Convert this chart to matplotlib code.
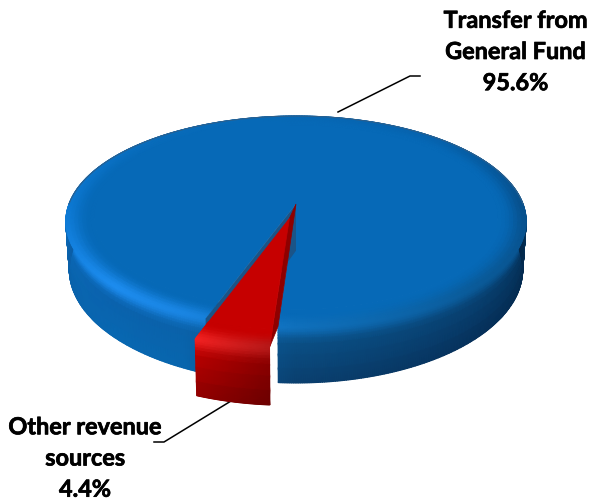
#!/usr/bin/python3
"""
plot.py

3-d look revenue pie, drawn by projecting the pie disc with a perspective
"""

import numpy as np
import matplotlib
matplotlib.use("Agg")
import matplotlib.pyplot as plt
import matplotlib.patheffects as pe
from matplotlib.colors import to_rgb


labels = ["Transfer from\nGeneral Fund\n95.6%", "Other revenue\nsources\n4.4%"]
shares = [95.6, 4.4]


# canvas, pixels
WIDTH = 591
HEIGHT = 502

# projection of the pie disc
CX, CY = 296.0, 205.0
G, F, K = 227.0, 102.6, 0.166
DEPTH = 46.7

# angle of the first edge of the red slice, degrees from the front
START = 3.8
EXPLODE = 0.14
BEVEL_R = 0.88

# shading tables, by angle from the front (positive is to the left)
ANGLES = [-180, -135, -90, -45, 0, 25, 45, 90, 135, 180]
BLUE_RIM = ["#0668b5", "#0662ad", "#07508c", "#0a5a98", "#0f70bc", "#1a86e4",
            "#1d8df0", "#0c78d2", "#086cbb", "#0668b5"]
BLUE_MID = ["#0668b5", "#044a80", "#032c50", "#084070", "#0a4f85", "#0a62aa",
            "#0a62ad", "#0a6ab8", "#0c78d2", "#0668b5"]
BLUE_LOW = ["#0668b5", "#06305a", "#03284a", "#06305a", "#0a3f6e", "#0866ae",
            "#0868b2", "#0a5ea6", "#0668b5", "#0668b5"]
BLUE_TOP = "#0669b7"
RED_RIM = ["#e82020"] * 10
RED_MID = ["#b00000"] * 10
RED_LOW = ["#880000"] * 10
RED_TOP = "#c60000"

# sample positions down the wall and across the rim
DROPS = np.array([0, 0.03, 0.06, 0.1, 0.15, 0.2, 0.3, 0.5, 0.75, 1.0])
RADII = np.linspace(BEVEL_R, 1.0, 8)


def project(theta, r, drop=0.0, offset=(0.0, 0.0)):
    """
    Disc point (angle, radius) to canvas pixels, drop 1 is the pie's underside
    """
    px = -r * np.sin(theta) + offset[0]
    py = r * np.cos(theta) + offset[1]
    w = 1 - K * py
    x = CX + G * px / w * (1 - 0.015 * drop)
    y = CY + F * py / w + drop * DEPTH / w
    return x, y


def table_colors(theta, table):
    deg = (np.degrees(theta) + 180) % 360 - 180
    rgb = np.array([to_rgb(c) for c in table])
    return np.stack([np.interp(deg, ANGLES, rgb[:, i]) for i in range(3)], axis=-1)


def smooth(t):
    t = np.clip(t, 0, 1)
    return t * t * (3 - 2 * t)


def draw_slice(ax, th0, th1, top, rim, mid, low, offset=(0.0, 0.0), zorder=2, fade=None):
    """
    Draws side, rounded rim and flat top of one slice
    """
    theta = np.radians(np.linspace(th0, th1, int(abs(th1 - th0) * 2) + 40))
    c_rim = table_colors(theta, rim)
    c_mid = table_colors(theta, mid)
    c_low = table_colors(theta, low)
    if fade is not None:
        scale = np.linspace(fade[0], fade[1], len(theta))[:, None]
        c_rim = np.clip(c_rim * scale, 0, 1)
        c_mid = np.clip(c_mid * scale, 0, 1)
        c_low = np.clip(c_low * scale, 0, 1)
    c_top = np.ones_like(c_rim) * np.array(to_rgb(top))

    # side wall, from the rim down
    x = np.array([project(theta, 1.0, d, offset)[0] for d in DROPS])
    y = np.array([project(theta, 1.0, d, offset)[1] for d in DROPS])
    c = []
    for d in DROPS:
        if d < 0.3:
            u = smooth(d / 0.3)
            c.append((1 - u) * c_rim + u * c_mid)
        else:
            u = (d - 0.3) / 0.7
            c.append((1 - u) * c_mid + u * c_low)
    ax.pcolormesh(x, y, np.stack(c), shading="gouraud", zorder=zorder)

    # rounded rim on the top face
    x = np.array([project(theta, r, 0, offset)[0] for r in RADII])
    y = np.array([project(theta, r, 0, offset)[1] for r in RADII])
    c = []
    for r in RADII:
        u = smooth((r - BEVEL_R) / (1 - BEVEL_R)) ** 1.5
        c.append((1 - u) * c_top + u * c_rim)
    ax.pcolormesh(x, y, np.stack(c), shading="gouraud", zorder=zorder)

    # flat top
    x, y = project(theta, BEVEL_R, 0, offset)
    x0, y0 = project(0.0, 0.0, 0, offset)
    ax.fill(np.r_[x0, x], np.r_[y0, y], color=top, lw=0.5, zorder=zorder)


def draw_pie(ax):
    total = sum(shares)
    red_end = START + shares[1] / total * 360
    blue_end = START + 360
    mid = np.radians((START + red_end) / 2)
    offset = (-np.sin(mid) * EXPLODE, np.cos(mid) * EXPLODE)

    draw_slice(ax, red_end, blue_end, BLUE_TOP, BLUE_RIM, BLUE_MID, BLUE_LOW)

    # back edge of the blue disc
    theta = np.radians(np.linspace(90, 270, 200))
    ax.plot(*project(theta, 1.0), color="#2c5f8c", lw=0.8, zorder=2)

    # cut wall of the blue slice, seen through the gap
    a = np.radians(red_end)
    x0, y0 = project(a, 0.0)
    x1, y1 = project(a, 1.0)
    x2, y2 = project(a, 1.0, 1.0)
    x3, y3 = project(a, 0.0, 1.0)
    ax.fill([x0, x1, x2, x3], [y0, y1, y2, y3], color="#1a5488", lw=0, zorder=3)

    # dark strip between the red slice and the blue edge
    a = np.radians(START)
    x0, y0 = project(a, 0.0)
    x1, y1 = project(a, 1.0)
    x2, y2 = project(a, 0.0, 0.0, offset)
    x3, y3 = project(a, 1.0, 0.0, offset)
    ax.fill([x0, x1, x3, x2], [y0, y1, y3, y2], color="#8e0000", lw=0.5, zorder=3)

    draw_slice(ax, START, red_end, RED_TOP, RED_RIM, RED_MID, RED_LOW,
               offset=offset, zorder=4, fade=(0.78, 1.05))


def main():
    fig = plt.figure(figsize=(WIDTH / 100, HEIGHT / 100), dpi=100)
    ax = fig.add_axes([0, 0, 1, 1])
    ax.set_xlim(0, WIDTH)
    ax.set_ylim(HEIGHT, 0)
    ax.axis("off")

    draw_pie(ax)

    # leader lines
    ax.plot([338, 410, 420], [113, 77, 77], color="black", lw=1.1, zorder=1)
    ax.plot([231, 164, 154], [402, 443, 443], color="black", lw=1.1, zorder=1)

    stroke = [pe.withStroke(linewidth=0.5, foreground="black")]
    ax.text(515.5, 53.5, labels[0], ha="center", va="center", family="Lato",
            weight="bold", fontsize=16.9, linespacing=1.6, path_effects=stroke)
    ax.text(85, 460, labels[1], ha="center", va="center", family="Lato",
            weight="bold", fontsize=16.9, linespacing=1.6, path_effects=stroke)

    fig.savefig("out.png", dpi=100)


main()
